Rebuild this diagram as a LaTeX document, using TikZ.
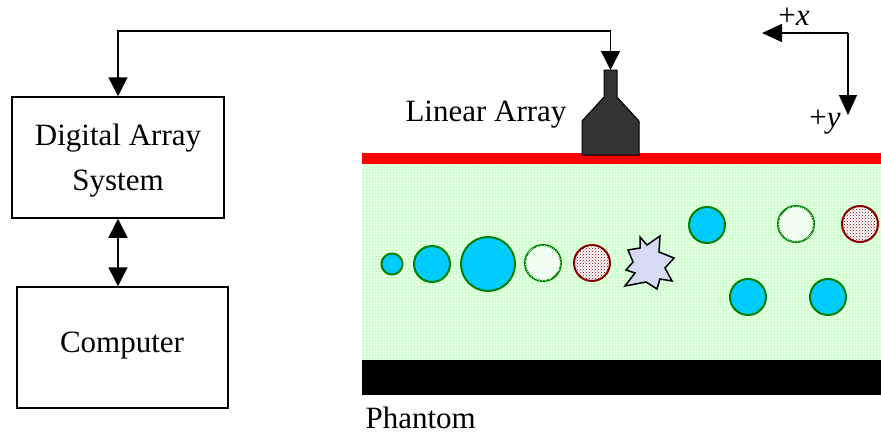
\documentclass[tikz,border=0pt]{standalone}
\usepackage{fontspec}
\setmainfont{Liberation Serif}
\usetikzlibrary{arrows.meta,patterns}

\definecolor{cystblue}{HTML}{00CCFF}
\definecolor{rimgreen}{HTML}{008000}
\definecolor{rimred}{HTML}{8B0000}
\definecolor{probegray}{HTML}{333333}
\definecolor{gelgreen}{HTML}{E8FFE8}
\definecolor{starfill}{HTML}{D4DCF4}

\begin{document}
\begin{tikzpicture}[x=1pt,y=-1pt,
  box/.style={draw, line width=1.5pt},
  label/.style={font=\fontsize{31}{45}\selectfont, align=center},
  dlink/.style={line width=1.5pt, {Triangle[width=19pt,length=19pt]}-{Triangle[width=19pt,length=19pt]}},
  axis/.style={line width=1.5pt, -{Triangle[width=18pt,length=20pt]}},
  cyst/.style={draw=rimgreen, line width=2pt, fill=cystblue},
  hollow/.style={draw=rimgreen, line width=2pt, fill=white, postaction={pattern=north east lines, pattern color=green!15}},
  dense/.style={draw=rimred, line width=2pt, fill=white, postaction={pattern=crosshatch dots, pattern color=red!50!black}}]
  \useasboundingbox (0,0) rectangle (881,439);

  % system blocks
  \node[box, minimum width=212pt, minimum height=121pt] (das) at (118,157.5) {};
  \node[label] (dastext) at (118,161) {Digital Array\\System};
  \node[box, minimum width=211pt, minimum height=121pt] (comp) at (122.5,347.5) {};
  \node[label] (comptext) at (122,346) {Computer};
  \draw[dlink] (das.south) -- (das.south |- comp.north);

  % phantom: gel, skin layer, absorber
  \fill[gelgreen] (362,164) rectangle (881,360);
  \fill[pattern=grid, pattern color=green!20] (362,164) rectangle (881,360);
  \fill[red] (362,153) rectangle (881,164);
  \fill[black] (362,360) rectangle (881,395);
  \node[label, anchor=west] (phantom) at (362,418) {Phantom};

  % transducer
  \draw[fill=probegray, line width=1pt] (604,70) -- (617,70) -- (617,97) -- (639,121) -- (639,155)
    -- (582,155) -- (582,121) -- (604,97) -- cycle;
  \coordinate (probe) at (610.5,70);
  \node[label, anchor=east] (array) at (570,115) {Linear Array};
  \coordinate (bend) at (118,31);
  \draw[dlink] (das.north) -- (bend) -| (probe);

  % targets
  \foreach \x/\y/\r in {392/264/10.5, 432/264/18, 488/264/27, 707/225/18, 748/297/18, 828/297/18}
    \draw[cyst] (\x,\y) circle (\r pt);
  \foreach \x/\y in {543/263, 796/224}
    \draw[hollow] (\x,\y) circle (18pt);
  \foreach \x/\y in {592/263, 860/224}
    \draw[dense] (\x,\y) circle (18pt);
  \draw[fill=starfill, line width=1.5pt, line join=miter]
    (640,237) -- (647,245) -- (660,236) -- (659,252) -- (674,258) -- (665,268) -- (672,281)
    -- (660,279) -- (657,289) -- (646,282) -- (625,286) -- (635,273) -- (626,270) -- (633,262)
    -- (628,250) -- (640,248) -- cycle;

  % axes
  \coordinate (origin) at (848,33);
  \coordinate (xend) at (762,33);
  \coordinate (yend) at (848,115);
  \draw[axis] (origin) -- (xend);
  \draw[axis] (origin) -- (yend);
  \node[label] (xlab) at (794,17) {+\textit{x}};
  \node[label] (ylab) at (825,122) {+\textit{y}};
\end{tikzpicture}
\end{document}
